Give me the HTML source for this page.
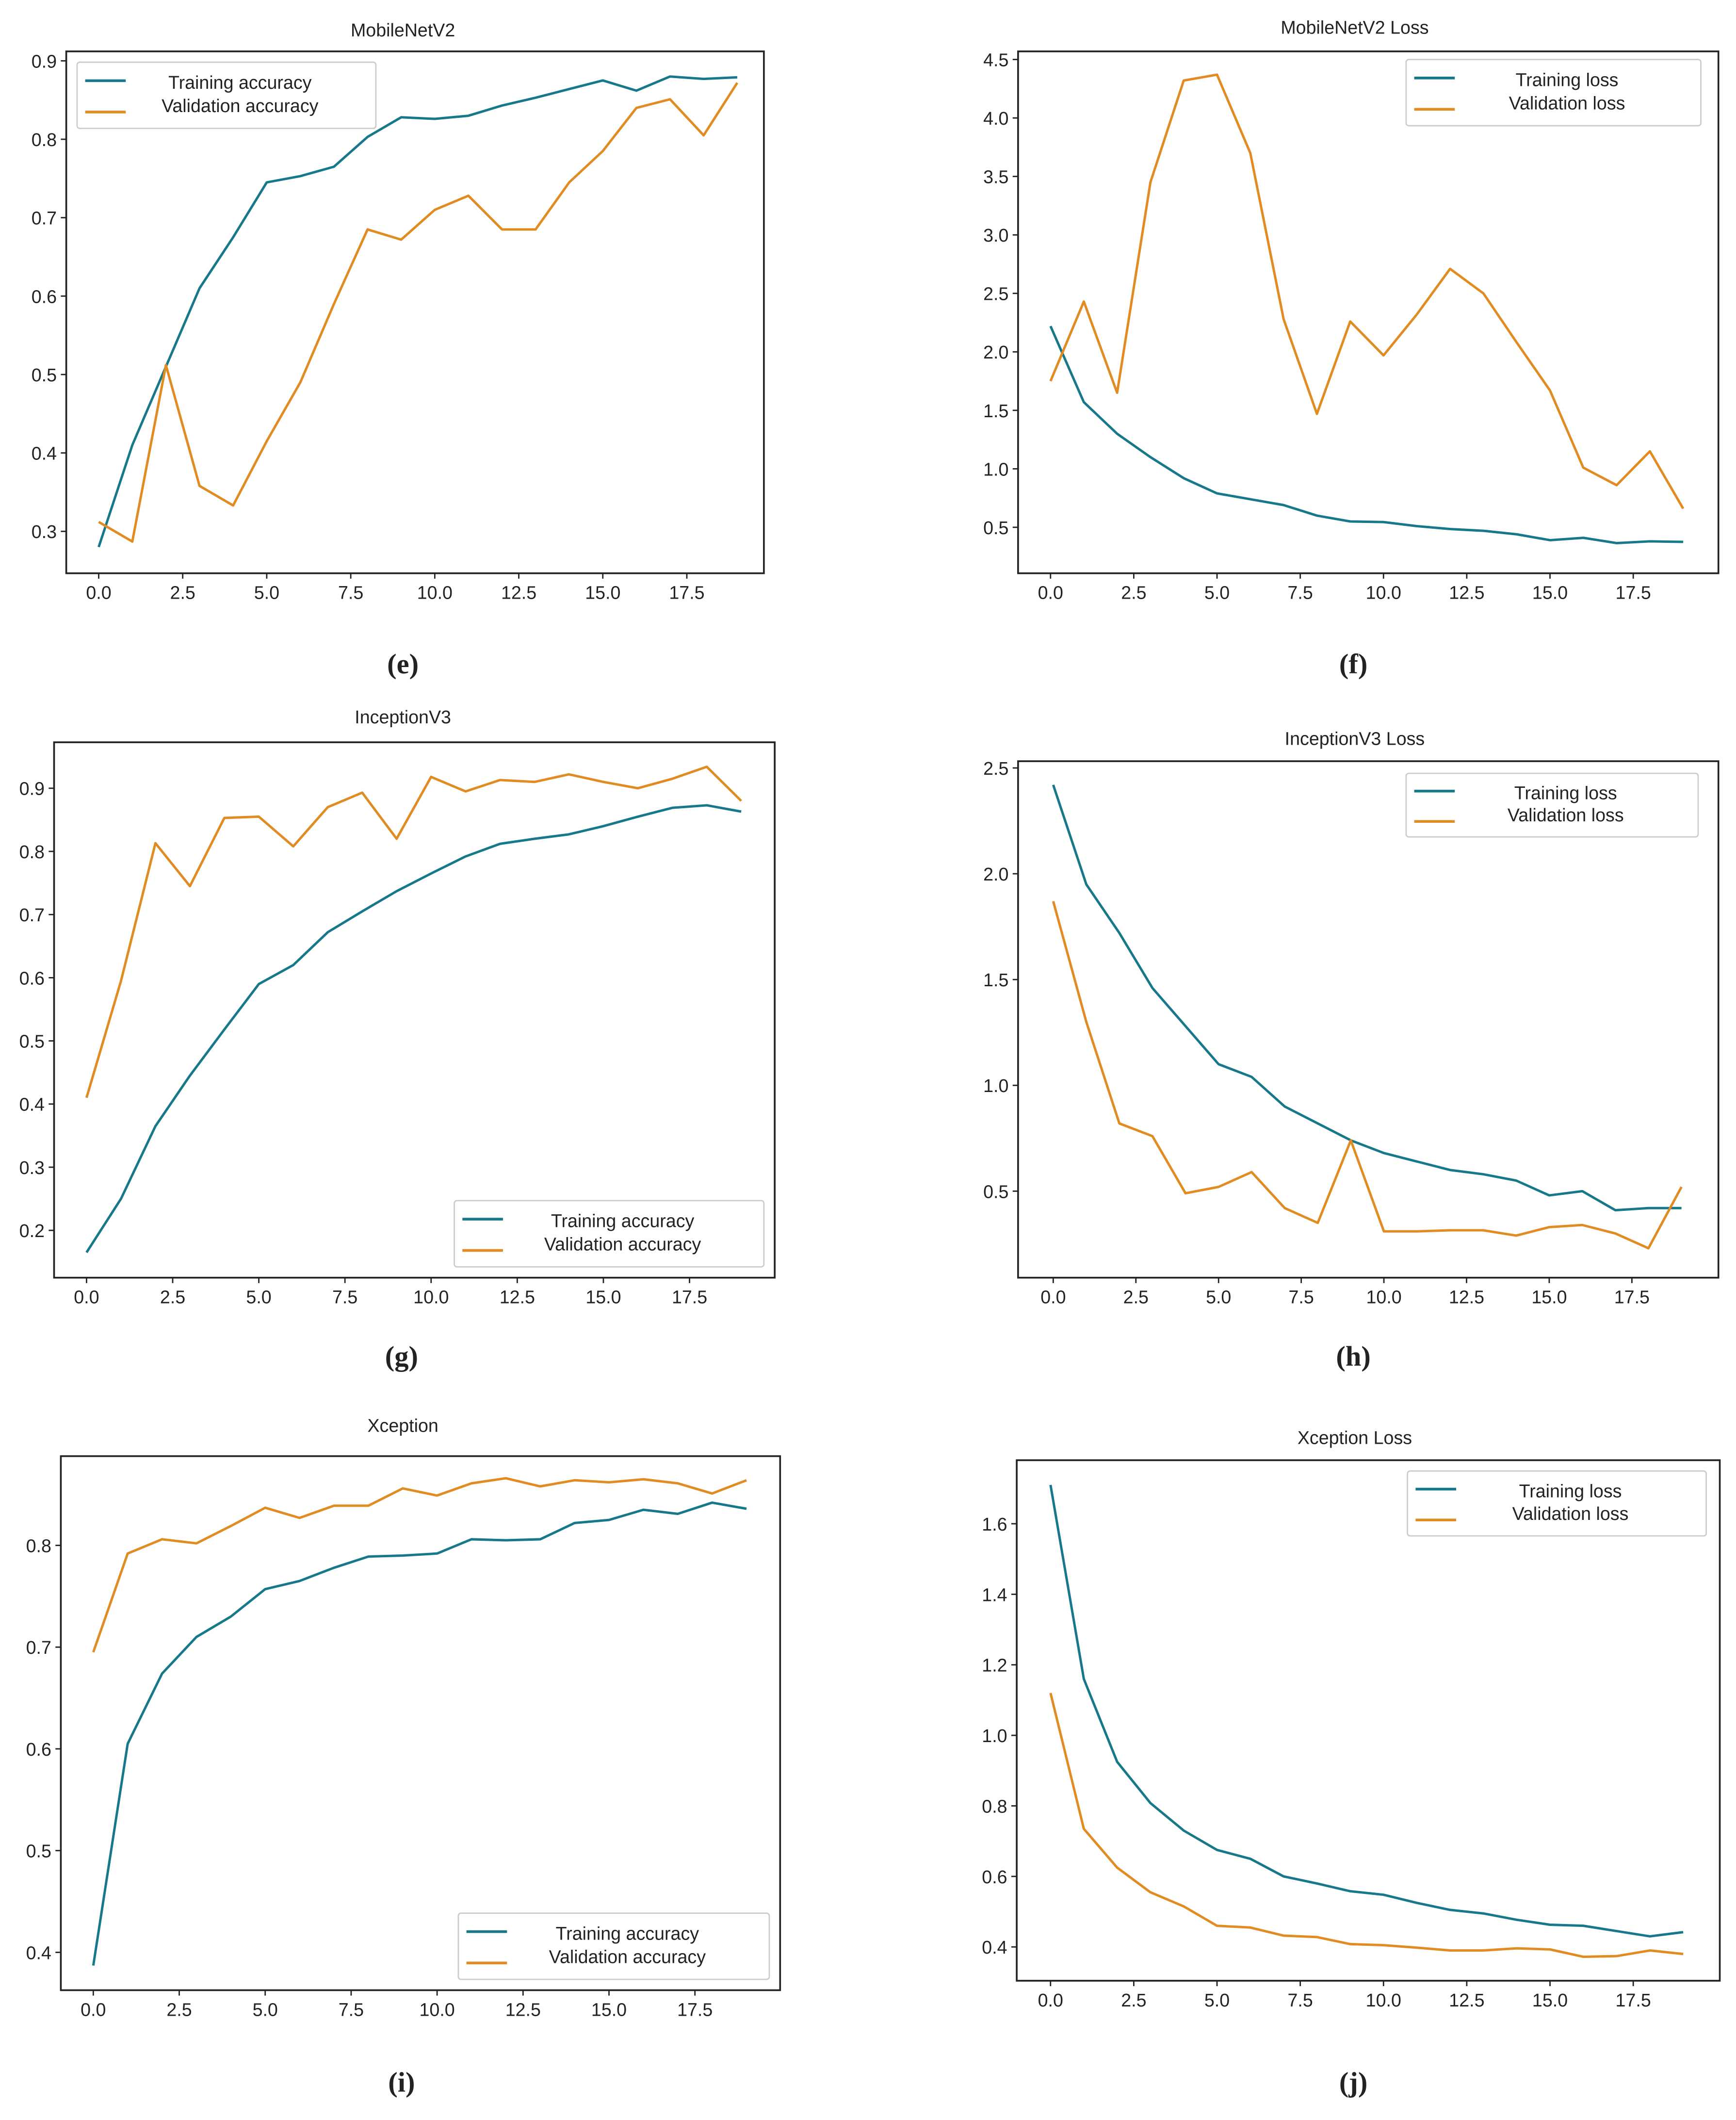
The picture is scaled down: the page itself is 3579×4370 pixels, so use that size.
<!DOCTYPE html>
<html><head><meta charset="utf-8"><style>
html,body{margin:0;padding:0;background:#fff}
svg{display:block}
text{font-family:"Liberation Sans",sans-serif;fill:#222}
text.cap{font-family:"Liberation Serif",serif;font-weight:bold}
</style></head><body>
<svg id="fig" width="3579" height="4370" viewBox="0 0 1284 1568" preserveAspectRatio="none" xmlns="http://www.w3.org/2000/svg">
<rect width="1284" height="1568" fill="#fff"/>
</svg>
<script>
const xs=[0,1,2,3,4,5,6,7,8,9,10,11,12,13,14,15,16,17,18,19];
const xTicks=[0,2.5,5,7.5,10,12.5,15,17.5];
const eTrain=[0.28,0.41,0.51,0.61,0.675,0.745,0.753,0.765,0.803,0.828,0.826,0.83,0.843,0.853,0.864,0.875,0.862,0.88,0.877,0.879];
const eVal=[0.312,0.287,0.512,0.358,0.333,0.415,0.49,0.59,0.685,0.672,0.71,0.728,0.685,0.685,0.745,0.785,0.84,0.851,0.805,0.872];
const eTicks=[0.3,0.4,0.5,0.6,0.7,0.8,0.9];
const fTrain=[2.22,1.57,1.3,1.1,0.92,0.79,0.74,0.69,0.6,0.55,0.545,0.51,0.485,0.47,0.44,0.39,0.41,0.365,0.38,0.375];
const fVal=[1.75,2.43,1.65,3.45,4.32,4.37,3.7,2.28,1.47,2.26,1.97,2.32,2.71,2.5,2.08,1.67,1.01,0.86,1.15,0.66];
const fTicks=[0.5,1.0,1.5,2.0,2.5,3.0,3.5,4.0,4.5];
const gTrain=[0.165,0.25,0.365,0.445,0.518,0.59,0.62,0.672,0.705,0.737,0.765,0.792,0.812,0.82,0.827,0.84,0.855,0.869,0.873,0.863];
const gVal=[0.41,0.595,0.813,0.745,0.853,0.855,0.808,0.87,0.893,0.82,0.918,0.895,0.913,0.91,0.922,0.91,0.9,0.915,0.934,0.88];
const gTicks=[0.2,0.3,0.4,0.5,0.6,0.7,0.8,0.9];
const hTrain=[2.42,1.95,1.72,1.46,1.28,1.1,1.04,0.9,0.82,0.74,0.68,0.64,0.6,0.58,0.55,0.48,0.5,0.41,0.42,0.42];
const hVal=[1.87,1.3,0.82,0.76,0.49,0.52,0.59,0.42,0.35,0.74,0.31,0.31,0.315,0.315,0.29,0.33,0.34,0.3,0.23,0.52];
const hTicks=[0.5,1.0,1.5,2.0,2.5];
const iTrain=[0.387,0.605,0.674,0.71,0.73,0.757,0.765,0.778,0.789,0.79,0.792,0.806,0.805,0.806,0.822,0.825,0.835,0.831,0.842,0.836];
const iVal=[0.695,0.792,0.806,0.802,0.819,0.837,0.827,0.839,0.839,0.856,0.849,0.861,0.866,0.858,0.864,0.862,0.865,0.861,0.851,0.864];
const iTicks=[0.4,0.5,0.6,0.7,0.8];
const jTrain=[1.71,1.16,0.925,0.808,0.73,0.675,0.65,0.6,0.58,0.558,0.548,0.525,0.505,0.495,0.477,0.463,0.46,0.445,0.43,0.442];
const jVal=[1.12,0.735,0.625,0.555,0.515,0.46,0.455,0.432,0.428,0.408,0.405,0.398,0.39,0.39,0.396,0.393,0.372,0.374,0.39,0.38];
const jTicks=[0.4,0.6,0.8,1.0,1.2,1.4,1.6];

const NS="http://www.w3.org/2000/svg";
const svg=document.getElementById('fig');
function mk(tag,attrs,parent){const e=document.createElementNS(NS,tag);for(const k in attrs)e.setAttribute(k,attrs[k]);parent.appendChild(e);return e;}
const TEAL="#17788a",ORANGE="#e08c22";

const panels=[
 {id:'e',title:'MobileNetV2',tp:[298,22],tr:eTrain,va:eVal,yt:eTicks,box:[49,38,565,424],x0:73,x1:508,y0v:0.9,y0:45,y1v:0.3,y1:393,leg:[57,46,278,95],names:['Training accuracy','Validation accuracy'],cap:[298,491]},
 {id:'f',title:'MobileNetV2 Loss',tp:[1002,20],tr:fTrain,va:fVal,yt:fTicks,box:[753,38,1271,424],x0:777,x1:1208,y0v:4.5,y0:44,y1v:0.5,y1:390,leg:[1040,44,1258,93],names:['Training loss','Validation loss'],cap:[1001,491]},
 {id:'g',title:'InceptionV3',tp:[298,530],tr:gTrain,va:gVal,yt:gTicks,box:[40,549,573,945],x0:64,x1:510,y0v:0.9,y0:583,y1v:0.2,y1:910,leg:[336,888,565,937],names:['Training accuracy','Validation accuracy'],cap:[297,1003]},
 {id:'h',title:'InceptionV3 Loss',tp:[1002,546],tr:hTrain,va:hVal,yt:hTicks,box:[753,563,1271,945],x0:779,x1:1207,y0v:2.5,y0:568,y1v:0.5,y1:881,leg:[1040,572,1256,619],names:['Training loss','Validation loss'],cap:[1001,1003]},
 {id:'i',title:'Xception',tp:[298,1054],tr:iTrain,va:iVal,yt:iTicks,box:[45,1077,577,1472],x0:69,x1:514,y0v:0.8,y0:1143,y1v:0.4,y1:1444,leg:[339,1415,569,1464],names:['Training accuracy','Validation accuracy'],cap:[297,1540]},
 {id:'j',title:'Xception Loss',tp:[1002,1063],tr:jTrain,va:jVal,yt:jTicks,box:[752,1080,1272,1465],x0:777,x1:1208,y0v:1.6,y0:1127,y1v:0.4,y1:1440,leg:[1041,1088,1262,1136],names:['Training loss','Validation loss'],cap:[1001,1540]}
];

panels.forEach(p=>{
 const g=mk('g',{},svg);
 
 
 const [bx0,by0,bx1,by1]=p.box;
 const X=v=>p.x0+(p.x1-p.x0)*v/17.5;
 const Y=v=>p.y0+(p.y1-p.y0)*(v-p.y0v)/(p.y1v-p.y0v);
 const t=mk('text',{x:p.tp[0],y:p.tp[1]+5,'text-anchor':'middle','font-size':13.5},g);
 t.textContent=p.title;
 
 
 xTicks.forEach(v=>{
  mk('line',{x1:X(v),x2:X(v),y1:by1,y2:by1+4,stroke:'#222','stroke-width':1},g);
  const l=mk('text',{x:X(v),y:by1+19,'text-anchor':'middle','font-size':13.5},g);
  l.textContent=v.toFixed(1);
  
  
 });
 p.yt.forEach(v=>{
  mk('line',{x1:bx0-4,x2:bx0,y1:Y(v),y2:Y(v),stroke:'#222','stroke-width':1},g);
  const l=mk('text',{x:bx0-7,y:Y(v)+5,'text-anchor':'end','font-size':13.5},g);
  l.textContent=v.toFixed(1);
  
  
 });
 const mkLine=(arr,col,name)=>{
  const pl=mk('polyline',{points:arr.map((v,i)=>X(xs[i]).toFixed(2)+','+Y(v).toFixed(2)).join(' '),fill:'none',stroke:col,'stroke-width':1.8,'stroke-linejoin':'round'},g);
  
  
 };
 mkLine(p.tr,TEAL,'training-line');
 mkLine(p.va,ORANGE,'validation-line');
 const fr=mk('rect',{x:bx0,y:by0,width:bx1-bx0,height:by1-by0,fill:'none',stroke:'#222','stroke-width':1.3},g);
 
 
 const [lx0,ly0,lx1,ly1]=p.leg;
 const lg=mk('g',{},g);
 
 
 mk('rect',{x:lx0,y:ly0,width:lx1-lx0,height:ly1-ly0,fill:'#fff',stroke:'#ccc','stroke-width':1,rx:2},lg);
 const rows=[ly0+(ly1-ly0)*0.3,ly0+(ly1-ly0)*0.65];
 [TEAL,ORANGE].forEach((c,k)=>{
  mk('line',{x1:lx0+6,x2:lx0+36,y1:rows[k]+(k?5:-1),y2:rows[k]+(k?5:-1),stroke:c,'stroke-width':2},lg);
  const tx=mk('text',{x:(lx0+lx1)/2+10,y:rows[k]+5,'text-anchor':'middle','font-size':13.5},lg);
  tx.textContent=p.names[k];
  
  
 });
 const cap=mk('text',{x:p.cap[0],y:p.cap[1]+7,'text-anchor':'middle','font-size':21,'class':'cap'},svg);
 cap.textContent='('+p.id+')';
 
 
});
</script>
</body></html>
